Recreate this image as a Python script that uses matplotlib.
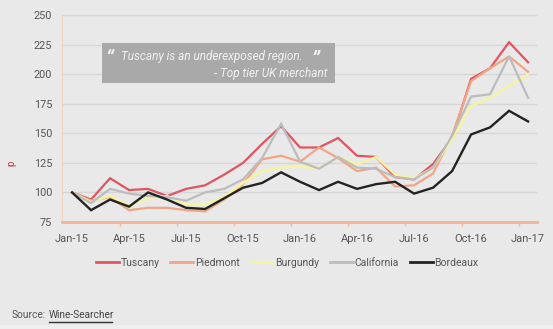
import numpy as np
import matplotlib
matplotlib.use('Agg')
import matplotlib.pyplot as plt
from matplotlib.patches import Rectangle
from matplotlib.lines import Line2D

# monthly index, Jan-15 .. Jan-17
months = list(range(25))
tick_pos = [0, 3, 6, 9, 12, 15, 18, 21, 24]
tick_labels = ['Jan-15', 'Apr-15', 'Jul-15', 'Oct-15', 'Jan-16', 'Apr-16', 'Jul-16', 'Oct-16', 'Jan-17']

tuscany = [100, 94, 112, 102, 103, 97, 103, 106, 115, 125, 141, 156, 138, 138, 146, 131, 130, 113, 111, 124, 146, 196, 205, 227, 210]
piedmont = [100, 93, 96, 85, 87, 87, 85, 84, 94, 107, 128, 131, 126, 138, 129, 118, 121, 105, 106, 116, 148, 194, 205, 215, 202]
burgundy = [100, 92, 97, 89, 95, 97, 90, 90, 96, 108, 118, 121, 122, 120, 130, 124, 130, 115, 112, 121, 145, 173, 180, 190, 200]
california = [100, 91, 103, 99, 97, 96, 93, 100, 103, 111, 129, 158, 126, 120, 130, 121, 120, 113, 111, 121, 148, 181, 183, 215, 180]
bordeaux = [100, 85, 94, 88, 100, 94, 87, 86, 95, 104, 108, 117, 109, 102, 109, 103, 107, 109, 99, 104, 118, 149, 155, 169, 160]

series = [('Tuscany', tuscany, '#e05560'),
          ('Piedmont', piedmont, '#f2a585'),
          ('Burgundy', burgundy, '#f6f59c'),
          ('California', california, '#bcbcbc'),
          ('Bordeaux', bordeaux, '#232323')]

W, H = 553, 329
bg = '#e9e9e9'
plt.rcParams['font.family'] = ['Roboto', 'DejaVu Sans']

fig = plt.figure(figsize=(W / 100, H / 100), dpi=100, facecolor=bg)

def fx(px):
    return px / W

def fy(py):
    return 1 - py / H

# lighter bottom strip
fig.patches.append(Rectangle((0, 0), 1, fy(325), transform=fig.transFigure,
                             facecolor='#efefef', edgecolor='none', zorder=0))

ax = fig.add_axes([fx(62), fy(222), fx(537) - fx(62), fy(15) - fy(222)])
ax.set_facecolor(bg)

for name, vals, col in series:
    lw = 1.7 if name == 'Bordeaux' else 1.6
    ax.plot(months, vals, color=col, lw=lw, label=name, solid_joinstyle='miter')

ax.set_xlim(-0.53, 24.47)
ax.set_ylim(75, 250)
ax.set_yticks(np.arange(75, 251, 25))
ax.yaxis.grid(True, color='#d6d6d6', lw=1)
ax.set_axisbelow(True)
ax.tick_params(axis='y', length=0, labelsize=7.8, labelcolor='#555555', pad=7)

ax.set_xticks(tick_pos)
ax.set_xticklabels(tick_labels)
ax.set_xticks([p + 2.5 for p in tick_pos[:-1]], minor=True)
ax.tick_params(axis='x', which='major', length=0, labelsize=8, labelcolor='#555555', pad=9)
ax.tick_params(axis='x', which='minor', length=3, color='#f3b89e', width=1)

for s in ['top', 'right']:
    ax.spines[s].set_visible(False)
ax.spines['left'].set_color('#f3d3c4')
ax.spines['left'].set_linewidth(0.8)
ax.spines['bottom'].set_color('#f3b396')
ax.spines['bottom'].set_linewidth(2)

fig.text(fx(11), fy(163), 'p', rotation=90, color='#c0404a', fontsize=7, ha='center', va='center')

# quote box
fig.patches.append(Rectangle((fx(102), fy(83)), fx(335) - fx(102), fy(43) - fy(83),
                             transform=fig.transFigure, facecolor='#a9a9a9',
                             edgecolor='none', zorder=3))
fig.text(fx(105), fy(64.5), '\u201c', color='#f2f2f2', fontsize=14.5, fontweight='bold',
         style='italic', ha='left', va='baseline', zorder=4)
fig.text(fx(121), fy(56.5), 'Tuscany is an underexposed region.', color='#f2f2f2',
         fontsize=8.5, style='italic', ha='left', va='center', zorder=4)
fig.text(fx(311), fy(64.5), '\u201d', color='#f2f2f2', fontsize=14.5, fontweight='bold',
         style='italic', ha='left', va='baseline', zorder=4)
fig.text(fx(327), fy(73.5), '- Top tier UK merchant', color='#f2f2f2',
         fontsize=8.5, style='italic', ha='right', va='center', zorder=4)

handles = [Line2D([], [], color=c, lw=2) for _, _, c in series]
fig.legend(handles, [n for n, _, _ in series], loc='center', ncol=5,
           bbox_to_anchor=(fx(287), fy(263)), frameon=False, fontsize=7.5,
           handlelength=2.2, handletextpad=0.15, columnspacing=1.05,
           labelcolor='#555555')

fig.text(fx(12), fy(315), 'Source:', color='#555555', fontsize=7.3, ha='left', va='center')
fig.text(fx(49), fy(315), 'Wine-Searcher', color='#444444', fontsize=7.3, ha='left', va='center')
fig.lines.append(Line2D([fx(49), fx(112)], [fy(321.5), fy(321.5)], transform=fig.transFigure,
                        color='#333333', lw=1))

fig.savefig('out.png', dpi=100, facecolor=bg)
